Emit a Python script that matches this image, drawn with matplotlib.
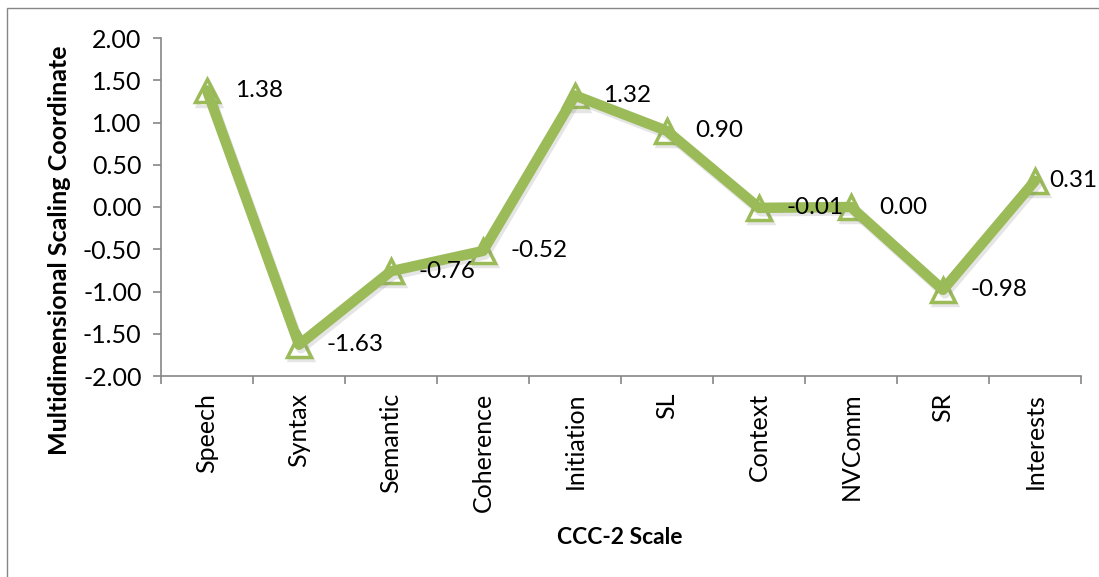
import matplotlib
matplotlib.use("Agg")
import matplotlib.pyplot as plt
import matplotlib.patheffects as pe
from matplotlib.patches import Rectangle

categories = ["Speech", "Syntax", "Semantic", "Coherence", "Initiation",
              "SL", "Context", "NVComm", "SR", "Interests"]
values = [1.38, -1.63, -0.76, -0.52, 1.32, 0.90, -0.01, 0.00, -0.98, 0.31]
y_ticks = [2.0, 1.5, 1.0, 0.5, 0.0, -0.5, -1.0, -1.5, -2.0]

green = "#9BBB59"
axis_gray = "#868686"
plt.rcParams["font.family"] = ["Lato", "DejaVu Sans"]

W, H = 1099, 577
fig = plt.figure(figsize=(W / 100, H / 100), dpi=100)
fig.patch.set_facecolor("white")

# chart frame
fig.add_artist(Rectangle((7 / W, -0.05), 1.2, 1 - 8 / H + 0.05,
                         transform=fig.transFigure, fill=False,
                         edgecolor=axis_gray, linewidth=1.0))

ax = fig.add_axes([161 / W, 1 - 376 / H, (1081 - 161) / W, (376 - 38) / H])
x = list(range(len(categories)))

shadow = [pe.SimpleLineShadow(offset=(1.5, -2.5), shadow_color="gray", alpha=0.2),
          pe.Normal()]
ax.plot(x, values, linestyle="none", marker="^", markersize=17,
        markerfacecolor="white", markeredgecolor=green, markeredgewidth=2.5,
        zorder=2, path_effects=shadow)
ax.plot(x, values, color=green, linewidth=7.5, solid_joinstyle="round",
        solid_capstyle="round", zorder=3, path_effects=shadow)

# value labels to the right of each point; the last one is pulled in
# a little so it stays inside the figure
for i, (xi, v) in enumerate(zip(x, values)):
    dx = 10 if i == len(values) - 1 else 20
    ax.annotate(f"{v:.2f}", (xi, v), xytext=(dx, 0), textcoords="offset points",
                ha="left", va="center", fontsize=17.5, color="black",
                annotation_clip=False, clip_on=False, zorder=4)

ax.set_xlim(-0.5, len(categories) - 0.5)
ax.set_ylim(-2.0, 2.0)
ax.set_yticks(y_ticks)
ax.set_yticklabels([f"{t:.2f}" for t in y_ticks], fontsize=18)

ax.set_xticks([i - 0.5 for i in range(len(categories) + 1)], minor=False)
ax.set_xticklabels([])
ax.set_xticks(x, minor=True)
ax.set_xticklabels(categories, minor=True, rotation=90, fontsize=18, va="top")
ax.tick_params(axis="x", which="minor", length=0, pad=12)
ax.tick_params(axis="x", which="major", length=6, direction="out",
               color=axis_gray, width=1.2)
ax.tick_params(axis="y", length=6, direction="out", color=axis_gray,
               width=1.2, pad=8)

for side in ["top", "right"]:
    ax.spines[side].set_visible(False)
for side in ["left", "bottom"]:
    ax.spines[side].set_color(axis_gray)
    ax.spines[side].set_linewidth(1.2)

fig.text(60 / W, 1 - 250 / H, "Multidimensional Scaling Coordinate",
         rotation=90, ha="center", va="center", fontsize=18, fontweight="bold")
fig.text(620 / W, 1 - 537 / H, "CCC-2 Scale", ha="center", va="center",
         fontsize=16.5, fontweight="bold")

fig.savefig("out.png", dpi=100)
